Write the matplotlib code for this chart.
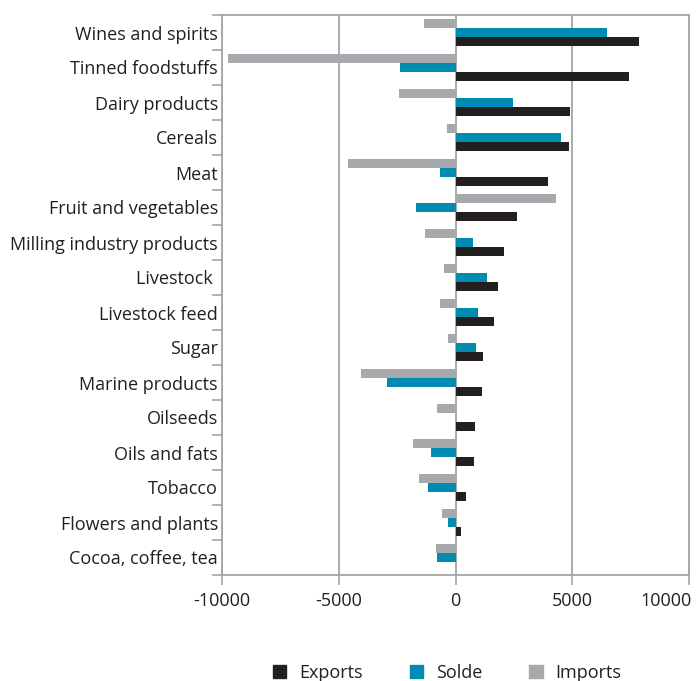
import numpy as np
import matplotlib
matplotlib.use('Agg')
from matplotlib import pyplot as plt
from matplotlib.patches import Patch
from matplotlib.transforms import ScaledTranslation

plt.rcParams['font.family'] = ['Open Sans', 'DejaVu Sans']
plt.rcParams['font.weight'] = 'medium'

categories = ['Wines and spirits', 'Tinned foodstuffs', 'Dairy products', 'Cereals',
              'Meat', 'Fruit and vegetables', 'Milling industry products', 'Livestock ',
              'Livestock feed', 'Sugar', 'Marine products', 'Oilseeds', 'Oils and fats',
              'Tobacco', 'Flowers and plants', 'Cocoa, coffee, tea']
exports = [7850, 7420, 4900, 4860, 3960, 2630, 2070, 1815, 1645, 1170, 1130, 830,
           790, 430, 230, 0]
solde = [6500, -2390, 2480, 4500, -650, -1690, 750, 1330, 960, 860, -2920, 30,
         -1050, -1170, -340, -800]
imports = [-1350, -9760, -2430, -370, -4620, 4300, -1315, -500, -670, -330, -4060, -800,
           -1830, -1570, -590, -840]
xticks = [-10000, -5000, 0, 5000, 10000]

c_exp = '#231f20'
c_sol = '#008bb0'
c_imp = '#a7a9ac'
grid_c = '#a5a5a5'
text_c = '#231f20'
fs = 13

fig = plt.figure(figsize=(6.99, 6.81), dpi=100)
ax = fig.add_axes([222 / 699, 1 - 575 / 681, 467 / 699, 560 / 681])

y = np.arange(len(categories))
h = 9 / 35
ax.barh(y - h, imports, height=h, color=c_imp, zorder=3)
ax.barh(y, solde, height=h, color=c_sol, zorder=3)
ax.barh(y + h, exports, height=h, color=c_exp, zorder=3)

ax.set_xlim(-10000, 10000)
ax.set_ylim(len(categories) - 0.5, -0.5)
ax.set_xticks(xticks)
ax.set_xticklabels([str(v) for v in xticks])
ax.grid(axis='x', color=grid_c, linewidth=1.3, zorder=0)

ax.set_yticks(y)
ax.set_yticklabels(categories)
ax.set_yticks(np.arange(len(categories) + 1) - 0.5, minor=True)
ax.tick_params(axis='y', which='major', length=0, pad=3, labelsize=fs, labelcolor=text_c)
ax.tick_params(axis='y', which='minor', length=7, width=1.2, color=grid_c)
ax.tick_params(axis='x', length=7, width=1.2, color=grid_c, pad=5, labelsize=fs,
               labelcolor=text_c)

# keep the last tick label inside the figure
last = ax.get_xticklabels()[-1]
last.set_transform(last.get_transform() + ScaledTranslation(-0.23, 0, fig.dpi_scale_trans))

for s in ax.spines.values():
    s.set_color(grid_c)
    s.set_linewidth(1.3)

handles = [Patch(color=c_exp, label='Exports'),
           Patch(color=c_sol, label='Solde'),
           Patch(color=c_imp, label='Imports')]
fig.legend(handles=handles, loc='center', bbox_to_anchor=(447 / 699, 8 / 681), ncol=3,
           frameon=False, handlelength=0.75, handleheight=0.75, handletextpad=0.7,
           columnspacing=2.6, fontsize=fs, labelcolor=text_c)

fig.savefig('out.png', dpi=100, facecolor='white')
